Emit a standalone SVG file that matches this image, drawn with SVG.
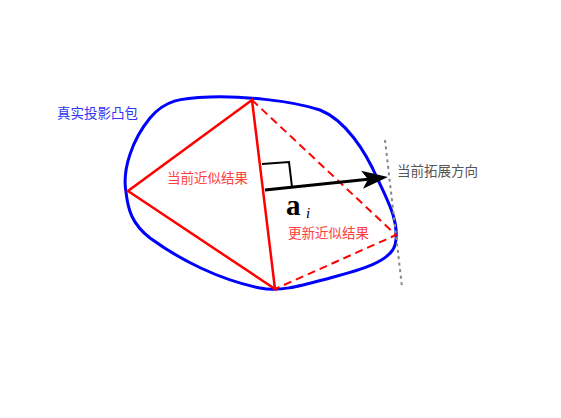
<svg xmlns="http://www.w3.org/2000/svg" width="561" height="418" viewBox="0 0 561 418">
<style>
.cjk{font-family:"Noto Sans CJK SC","Noto Sans",sans-serif;font-size:13.5px}
.red{stroke:#ff0000;stroke-width:2.5;fill:none;stroke-linecap:round}
.dash{stroke:#ff0000;stroke-width:2;fill:none;stroke-dasharray:8 5}
</style>
<defs>
<marker id="head" markerUnits="userSpaceOnUse" markerWidth="40" markerHeight="30" viewBox="-10 -15 40 30" refX="0" refY="0" orient="auto">
<path d="M-6,-9 L20,0 L-6,9 L0,0 Z" fill="#000"/>
</marker>
</defs>
<rect width="561" height="418" fill="#fff"/>
<g id="hull">
<path d="M126,192 C122,170 132,140 150,118 C165,100 180,98 210,97 C240,96 290,100 320,110 C345,120 365,150 378,180 C390,205 400,225 395,245 C390,262 360,270 330,278 C300,286 280,292 260,288 C220,280 180,260 150,238 C132,224 128,210 126,192 Z" fill="none" stroke="#0000ff" stroke-width="3"/>
</g>
<g id="support-line">
<line x1="385" y1="140" x2="402" y2="287" stroke="#888" stroke-width="2" stroke-dasharray="3 3.5"/>
</g>
<g id="current-approx">
<path class="red" d="M252,100 L128,191 L275,289 Z"/>
</g>
<g id="new-approx">
<path class="dash" d="M252,100 L396,235 L275,289"/>
</g>
<g id="right-angle">
<path d="M262,164 L289,162 L292,187" fill="none" stroke="#000" stroke-width="2"/>
</g>
<g id="connectors">
<line x1="265" y1="190" x2="368" y2="179.2" stroke="#000" stroke-width="3" marker-end="url(#head)"/>
</g>
<g id="labels">
<text class="cjk" x="57" y="118" fill="#3333f5">真实投影凸包</text>
<text class="cjk" x="167" y="183" fill="#ff4040">当前近似结果</text>
<text class="cjk" x="288" y="238" fill="#ff4040">更新近似结果</text>
<text class="cjk" x="397" y="176" fill="#555">当前拓展方向</text>
<text x="286" y="215" font-family="'Liberation Serif',serif" font-weight="bold" font-size="29" fill="#000">a</text>
<text x="306" y="218" font-family="'Liberation Serif',serif" font-style="italic" font-size="15" fill="#000">i</text>
</g>
</svg>
